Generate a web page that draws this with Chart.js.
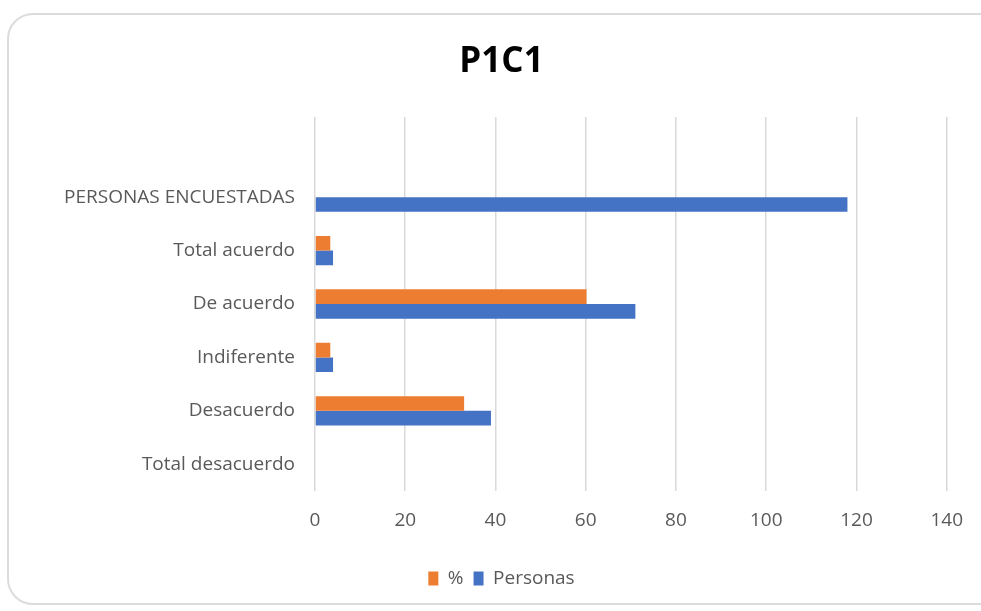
<!DOCTYPE html>
<html>
<head>
<meta charset="utf-8">
<script src="https://cdn.jsdelivr.net/npm/chart.js@4"></script>
<style>
  html, body { margin: 0; padding: 0; background: #fff; overflow: hidden; }
  body { width: 981px; height: 611px; position: relative; }
  .card {
    position: absolute; left: 7px; top: 13px; width: 1000px; height: 592px;
    border: 2px solid #dcdcdc; border-radius: 26px; box-sizing: border-box;
  }
  #chart { position: absolute; left: 0; top: 0; }
</style>
</head>
<body>
<div class="card"></div>
<canvas id="chart" width="981" height="611"></canvas>
<script>
// categories, top to bottom (first row is blank in the source sheet)
const categories = ['', 'PERSONAS ENCUESTADAS', 'Total acuerdo', 'De acuerdo', 'Indiferente', 'Desacuerdo', 'Total desacuerdo'];
const porcentaje = [null, null, 3.39, 60.17, 3.39, 33.05, 0];
const personas = [null, 118, 4, 71, 4, 39, 0];
const xTicks = [0, 20, 40, 60, 80, 100, 120, 140];

const textColor = '#595959';
const gridColor = '#d9d9d9';
const font = 'Open Sans';

new Chart(document.getElementById('chart'), {
  type: 'bar',
  data: {
    labels: categories,
    datasets: [
      { label: '%', data: porcentaje, backgroundColor: '#ED7D31', categoryPercentage: 0.55, barPercentage: 1 },
      { label: 'Personas', data: personas, backgroundColor: '#4472C4', categoryPercentage: 0.55, barPercentage: 1 }
    ]
  },
  options: {
    indexAxis: 'y',
    responsive: false,
    animation: false,
    layout: { padding: { left: 56, right: 34, top: 0, bottom: 13 } },
    plugins: {
      title: {
        display: true,
        text: 'P1C1',
        color: '#000',
        font: { family: font, size: 35, weight: 'bold' },
        padding: { top: 41, bottom: 34 }
      },
      legend: {
        position: 'bottom',
        labels: { color: textColor, font: { family: font, size: 19 }, boxWidth: 10, boxHeight: 14, padding: 10 }
      },
      tooltip: { enabled: false }
    },
    scales: {
      x: {
        min: 0, max: 140,
        afterBuildTicks: scale => { scale.ticks = xTicks.map(v => ({ value: v })); },
        afterFit: scale => { scale.height = 68; },
        grid: { color: gridColor, lineWidth: 1.5, drawTicks: false },
        border: { display: false },
        ticks: { color: textColor, font: { family: font, size: 19 }, padding: 18 }
      },
      y: {
        afterFit: scale => { scale.width = 259; },
        grid: { display: false, drawTicks: false },
        border: { display: false },
        ticks: { color: textColor, font: { family: font, size: 19 }, padding: 20 }
      }
    }
  }
});
</script>
</body>
</html>
